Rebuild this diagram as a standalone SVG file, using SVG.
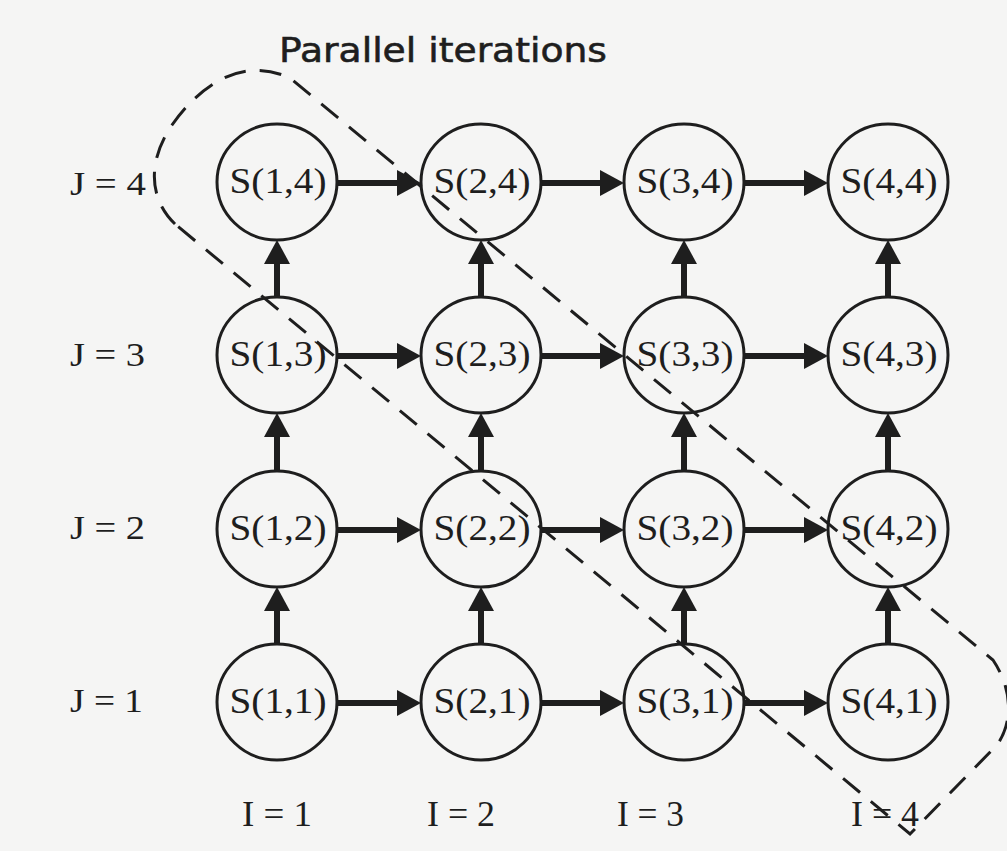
<svg xmlns="http://www.w3.org/2000/svg" width="1007" height="851" viewBox="0 0 1007 851">
<style>
.bg{fill:#f5f5f4}
.node ellipse{fill:none;stroke:#1e1e1e;stroke-width:3}
.lbl{font-family:"Liberation Serif","Times New Roman",serif;fill:#1e1e1e}
.node text{text-anchor:middle;font-size:35px}
.jl{font-size:34px}
.il{font-size:36px}
.edge{stroke:#1e1e1e;stroke-width:6;fill:none;marker-end:url(#ah)}
.region{fill:none;stroke:#1e1e1e;stroke-width:3;stroke-dasharray:22 14}
.title{font-family:"DejaVu Sans","Comic Sans MS",sans-serif;font-size:34px;fill:#1e1e1e;stroke:#1e1e1e;stroke-width:0.6}
</style>
<defs>
<marker id="ah" markerUnits="userSpaceOnUse" markerWidth="26" markerHeight="28" refX="0" refY="13" orient="auto" viewBox="0 0 26 28">
<path d="M0,0 L24,13 L0,26 Z" fill="#1e1e1e"/>
</marker>
</defs>
<rect class="bg" x="0" y="0" width="1007" height="851"/>
<text class="title" x="279" y="62" textLength="328" lengthAdjust="spacingAndGlyphs">Parallel iterations</text>
<g id="labels">
<text class="lbl jl" x="70" y="195" textLength="76" lengthAdjust="spacingAndGlyphs">J = 4</text>
<text class="lbl jl" x="70" y="366" textLength="75" lengthAdjust="spacingAndGlyphs">J = 3</text>
<text class="lbl jl" x="70" y="539" textLength="75" lengthAdjust="spacingAndGlyphs">J = 2</text>
<text class="lbl jl" x="70" y="712" textLength="73" lengthAdjust="spacingAndGlyphs">J = 1</text>
<text class="lbl il" x="242" y="826" textLength="70" lengthAdjust="spacingAndGlyphs">I = 1</text>
<text class="lbl il" x="427" y="826" textLength="68" lengthAdjust="spacingAndGlyphs">I = 2</text>
<text class="lbl il" x="617" y="826" textLength="67" lengthAdjust="spacingAndGlyphs">I = 3</text>
<text class="lbl il" x="851" y="826" textLength="68" lengthAdjust="spacingAndGlyphs">I = 4</text>
</g>
<g id="connectors">
<line class="edge" x1="337" y1="183" x2="397" y2="183"/>
<line class="edge" x1="541" y1="183" x2="600" y2="183"/>
<line class="edge" x1="744" y1="183" x2="804" y2="183"/>
<line class="edge" x1="337" y1="356" x2="397" y2="356"/>
<line class="edge" x1="541" y1="356" x2="600" y2="356"/>
<line class="edge" x1="744" y1="356" x2="804" y2="356"/>
<line class="edge" x1="337" y1="530" x2="397" y2="530"/>
<line class="edge" x1="541" y1="530" x2="600" y2="530"/>
<line class="edge" x1="744" y1="530" x2="804" y2="530"/>
<line class="edge" x1="337" y1="703" x2="397" y2="703"/>
<line class="edge" x1="541" y1="703" x2="600" y2="703"/>
<line class="edge" x1="744" y1="703" x2="804" y2="703"/>
<line class="edge" x1="277" y1="297" x2="277" y2="264"/>
<line class="edge" x1="481" y1="297" x2="481" y2="264"/>
<line class="edge" x1="684" y1="297" x2="684" y2="264"/>
<line class="edge" x1="888" y1="297" x2="888" y2="264"/>
<line class="edge" x1="277" y1="471" x2="277" y2="437"/>
<line class="edge" x1="481" y1="471" x2="481" y2="437"/>
<line class="edge" x1="684" y1="471" x2="684" y2="437"/>
<line class="edge" x1="888" y1="471" x2="888" y2="437"/>
<line class="edge" x1="277" y1="644" x2="277" y2="611"/>
<line class="edge" x1="481" y1="644" x2="481" y2="611"/>
<line class="edge" x1="684" y1="644" x2="684" y2="611"/>
<line class="edge" x1="888" y1="644" x2="888" y2="611"/>
</g>
<g id="n14" class="node"><ellipse cx="277" cy="182" rx="60" ry="58"/><text class="lbl" x="278" y="193" textLength="97" lengthAdjust="spacingAndGlyphs">S(1,4)</text></g>
<g id="n24" class="node"><ellipse cx="481" cy="182" rx="60" ry="58"/><text class="lbl" x="482" y="193" textLength="97" lengthAdjust="spacingAndGlyphs">S(2,4)</text></g>
<g id="n34" class="node"><ellipse cx="684" cy="182" rx="60" ry="58"/><text class="lbl" x="685" y="193" textLength="97" lengthAdjust="spacingAndGlyphs">S(3,4)</text></g>
<g id="n44" class="node"><ellipse cx="888" cy="182" rx="60" ry="58"/><text class="lbl" x="889" y="193" textLength="97" lengthAdjust="spacingAndGlyphs">S(4,4)</text></g>
<g id="n13" class="node"><ellipse cx="277" cy="355" rx="60" ry="58"/><text class="lbl" x="278" y="366" textLength="97" lengthAdjust="spacingAndGlyphs">S(1,3)</text></g>
<g id="n23" class="node"><ellipse cx="481" cy="355" rx="60" ry="58"/><text class="lbl" x="482" y="366" textLength="97" lengthAdjust="spacingAndGlyphs">S(2,3)</text></g>
<g id="n33" class="node"><ellipse cx="684" cy="355" rx="60" ry="58"/><text class="lbl" x="685" y="366" textLength="97" lengthAdjust="spacingAndGlyphs">S(3,3)</text></g>
<g id="n43" class="node"><ellipse cx="888" cy="355" rx="60" ry="58"/><text class="lbl" x="889" y="366" textLength="97" lengthAdjust="spacingAndGlyphs">S(4,3)</text></g>
<g id="n12" class="node"><ellipse cx="277" cy="529" rx="60" ry="58"/><text class="lbl" x="278" y="540" textLength="97" lengthAdjust="spacingAndGlyphs">S(1,2)</text></g>
<g id="n22" class="node"><ellipse cx="481" cy="529" rx="60" ry="58"/><text class="lbl" x="482" y="540" textLength="97" lengthAdjust="spacingAndGlyphs">S(2,2)</text></g>
<g id="n32" class="node"><ellipse cx="684" cy="529" rx="60" ry="58"/><text class="lbl" x="685" y="540" textLength="97" lengthAdjust="spacingAndGlyphs">S(3,2)</text></g>
<g id="n42" class="node"><ellipse cx="888" cy="529" rx="60" ry="58"/><text class="lbl" x="889" y="540" textLength="97" lengthAdjust="spacingAndGlyphs">S(4,2)</text></g>
<g id="n11" class="node"><ellipse cx="277" cy="702" rx="60" ry="58"/><text class="lbl" x="278" y="713" textLength="97" lengthAdjust="spacingAndGlyphs">S(1,1)</text></g>
<g id="n21" class="node"><ellipse cx="481" cy="702" rx="60" ry="58"/><text class="lbl" x="482" y="713" textLength="97" lengthAdjust="spacingAndGlyphs">S(2,1)</text></g>
<g id="n31" class="node"><ellipse cx="684" cy="702" rx="60" ry="58"/><text class="lbl" x="685" y="713" textLength="97" lengthAdjust="spacingAndGlyphs">S(3,1)</text></g>
<g id="n41" class="node"><ellipse cx="888" cy="702" rx="60" ry="58"/><text class="lbl" x="889" y="713" textLength="97" lengthAdjust="spacingAndGlyphs">S(4,1)</text></g>
<g id="parallel-region">
<path class="region" d="M 175,224 C 148,198 148,160 172,125 C 198,88 240,55 290,78 L 993,660 C 1013,690 1013,722 997,745 L 910,834 Z"/>
</g>
</svg>
